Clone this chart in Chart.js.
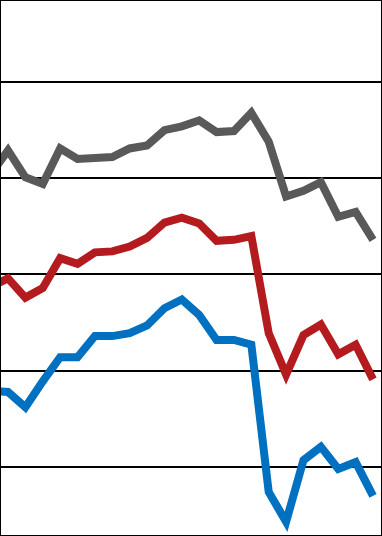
<!DOCTYPE html>
<html>
<head>
<meta charset="utf-8">
<script src="https://cdn.jsdelivr.net/npm/chart.js@4"></script>
<style>
    body { margin: 0; background: #fff; }
    #wrap { width: 382px; height: 536px; border: 1px solid #000; box-sizing: border-box; }
</style>
</head>
<body>
<div id="wrap"><canvas id="chart" width="380" height="534"></canvas></div>
<script>
// periods (index 0 sits just off the left edge of the crop)
const periods = [0, 1, 2, 3, 4, 5, 6, 7, 8, 9, 10, 11, 12, 13, 14, 15, 16, 17, 18, 19, 20, 21, 22];

const grayValues = [40.4, 42.9, 40.1, 39.4, 43.1, 42.0, 42.1, 42.2, 43.1, 43.4, 45.0, 45.4, 46.0, 44.8, 44.9, 46.8, 43.8, 38.1, 38.7, 39.6, 36.0, 36.5, 33.6];
const redValues = [28.7, 29.6, 27.6, 28.6, 31.7, 31.1, 32.3, 32.4, 32.9, 33.8, 35.4, 35.9, 35.3, 33.5, 33.6, 34.0, 23.9, 19.6, 23.7, 24.8, 21.7, 22.7, 19.1];
const blueValues = [17.9, 17.8, 16.2, 18.9, 21.4, 21.4, 23.6, 23.6, 23.9, 24.7, 26.5, 27.4, 25.8, 23.2, 23.2, 22.7, 7.4, 4.3, 10.7, 12.1, 9.8, 10.5, 7.0];

const gridTicks = [10, 20, 30, 40, 50];

function toPoints(values) {
    return values.map((v, i) => ({ x: periods[i], y: v }));
}

function makeSeries(values, color) {
    return {
        data: toPoints(values),
        borderColor: color,
        borderWidth: 8,
        pointRadius: 0,
        tension: 0,
        fill: false
    };
}

const ctx = document.getElementById('chart').getContext('2d');
new Chart(ctx, {
    type: 'line',
    data: {
        datasets: [
            makeSeries(grayValues, '#595959'),
            makeSeries(redValues, '#b31b1e'),
            makeSeries(blueValues, '#0070c0')
        ]
    },
    options: {
        responsive: false,
        animation: false,
        layout: { padding: 0 },
        plugins: {
            legend: { display: false },
            tooltip: { enabled: false }
        },
        scales: {
            x: {
                type: 'linear',
                display: false,
                min: 0.597,
                max: 22.46
            },
            y: {
                min: 2.93,
                max: 58.42,
                afterBuildTicks: (scale) => {
                    scale.ticks = gridTicks.map(v => ({ value: v }));
                },
                ticks: { display: false },
                border: { display: false },
                grid: {
                    color: '#000',
                    lineWidth: 2,
                    drawTicks: false,
                    tickLength: 0
                }
            }
        }
    }
});
</script>
</body>
</html>
